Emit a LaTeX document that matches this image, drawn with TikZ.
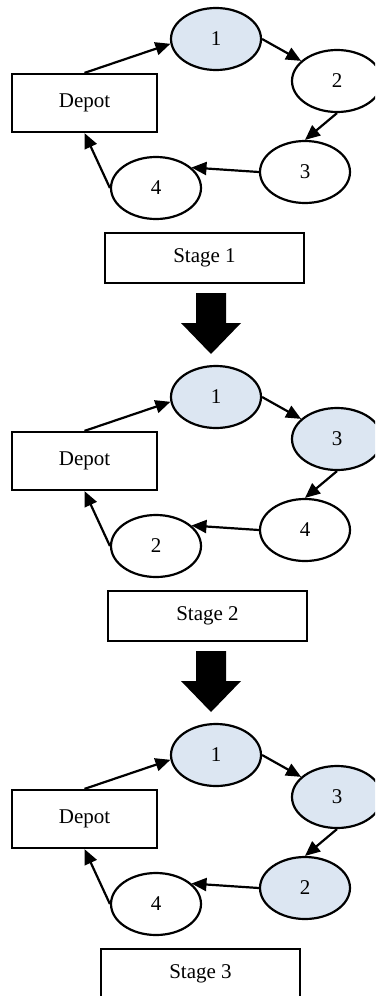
\documentclass[tikz,border=0pt]{standalone}
\usepackage{fontspec}
\setmainfont{Liberation Serif}
\usetikzlibrary{shapes.geometric,arrows.meta}
\definecolor{stopfill}{RGB}{220,230,242}
\begin{document}
\begin{tikzpicture}[x=1pt,y=-1pt,
  every node/.style={font=\fontsize{21}{24}\selectfont},
  stop/.style={ellipse,draw,line width=2.2pt,minimum width=90pt,minimum height=62pt,inner sep=0pt},
  done/.style={stop,fill=stopfill},
  open/.style={stop,fill=white},
  depotbox/.style={rectangle,draw,line width=2.2pt,minimum width=145pt,minimum height=58pt,inner sep=0pt},
  stagebox/.style={rectangle,draw,line width=2.2pt,minimum width=199pt,minimum height=50pt,inner sep=0pt},
  link/.style={line width=2.2pt,-{Triangle[length=15pt,width=13pt]}},
  bigarrow/.style={fill=black}]
% page frame
\fill[white] (0,0) rectangle (375,996);
\useasboundingbox (0,0) rectangle (375,996);
\clip (0,0) rectangle (375,996);

% three stages of the tour, each shifted down by 358
\foreach \k/\dy/\sx/\a/\fa/\b/\fb/\c/\fc/\d/\fd in {
    1/0/204.5/1/done/2/open/3/open/4/open,
    2/358/207.5/1/done/3/done/4/open/2/open,
    3/716/200.5/1/done/3/done/2/done/4/open}{
  \node[depotbox] (dep\k) at (84.5,{103+\dy}) {Depot};
  \node[\fa] (pa\k) at (216,{39+\dy}) {\a};
  \node[\fb] (pb\k) at (337,{81+\dy}) {\b};
  \node[\fc] (pc\k) at (305,{172+\dy}) {\c};
  \node[\fd] (pd\k) at (156,{188+\dy}) {\d};
  \node[stagebox] (lab\k) at (\sx,{258+\dy}) {Stage \k};
  \draw[link] (dep\k.north) -- (pa\k.186);
  \draw[link] (pa\k.east) -- (pb\k);
  \draw[link] (pb\k.south) -- (pc\k.north);
  \draw[link] (pc\k.west) -- (pd\k.30);
  \draw[link] (pd\k.west) -- (dep\k.south);
}

% block arrows leading from one stage to the next
\foreach \dy in {0,358}{
  \fill[bigarrow] (196,{293+\dy}) -- (226,{293+\dy}) -- (226,{323+\dy})
    -- (241,{323+\dy}) -- (211,{354+\dy}) -- (181,{323+\dy})
    -- (196,{323+\dy}) -- cycle;
}
\end{tikzpicture}
\end{document}
